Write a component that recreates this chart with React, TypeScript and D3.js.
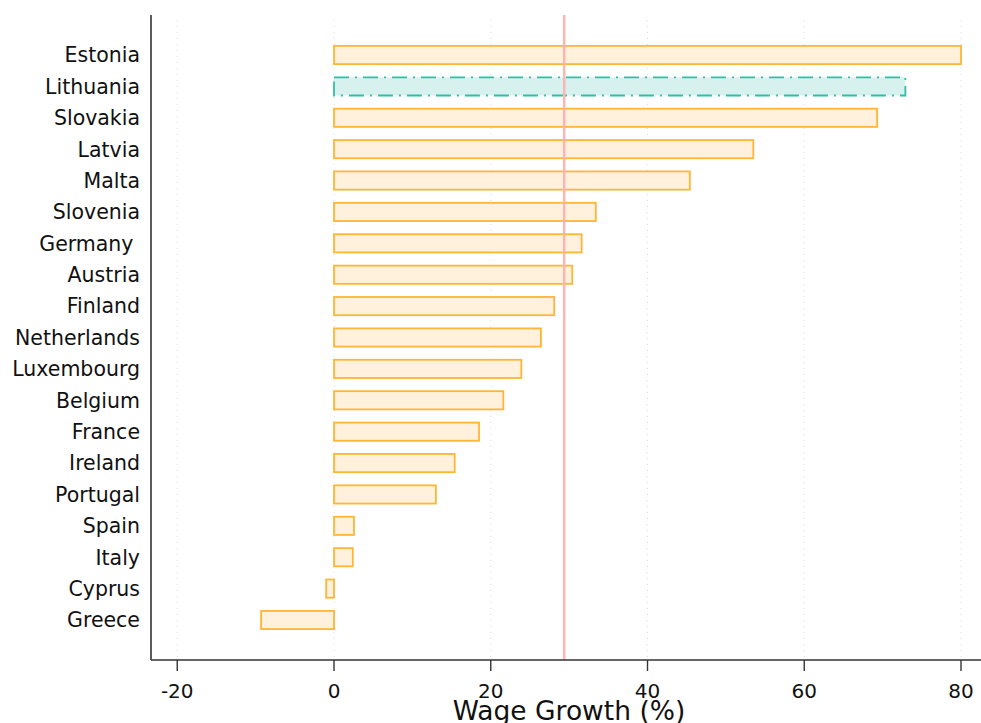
import React from "react";
import * as d3 from "d3";

const countries = ["Estonia","Lithuania","Slovakia","Latvia","Malta","Slovenia","Germany ","Austria","Finland","Netherlands","Luxembourg","Belgium","France","Ireland","Portugal","Spain","Italy","Cyprus","Greece"];
const growth = [80.0,72.9,69.3,53.5,45.4,33.4,31.6,30.4,28.1,26.4,23.9,21.6,18.5,15.4,13.0,2.55,2.4,-1.0,-9.3];
const highlight = ["Lithuania"];
const xTicks = [-20,0,20,40,60,80];

export default function App() {
  const W = 981, H = 723;
  const left = 151, right = 981, top = 15, bottom = 660;
  const x = d3.scaleLinear().domain([-23.35, 82.55]).range([left, right]);
  const y = d3.scaleBand().domain(countries).range([top + 24.3, bottom - 24.3]).paddingInner(0.42).paddingOuter(0.21);
  const mean = d3.mean(growth) as number;
  const font = "Verdana, DejaVu Sans, sans-serif";
  return (
    <svg width={W} height={H} style={{ position: "absolute", left: 0, top: 0, background: "#fff" }}>
      {xTicks.map(t => (
        <line key={"g"+t} x1={x(t)} x2={x(t)} y1={top + 5} y2={bottom - 3} stroke="#dcdcdc" strokeWidth={1} strokeDasharray="1,5" />
      ))}
      {countries.map((c, i) => {
        const v = growth[i];
        const hl = highlight.includes(c.trim());
        const x0 = x(Math.min(0, v)), x1 = x(Math.max(0, v));
        return (
          <rect key={c} x={x0} y={y(c)} width={x1 - x0} height={y.bandwidth()}
            fill={hl ? "#d7f1ee" : "#fff1db"} stroke={hl ? "#2cc0a6" : "#ffb535"} strokeWidth={1.8}
            strokeDasharray={hl ? "15,6,2,6" : undefined} />
        );
      })}
      <line x1={x(mean)} x2={x(mean)} y1={top} y2={bottom} stroke="#ffb3b3" strokeWidth={2.5} />
      <line x1={left} x2={left} y1={top} y2={bottom} stroke="#333" strokeWidth={1.6} />
      <line x1={left} x2={right} y1={bottom} y2={bottom} stroke="#333" strokeWidth={1.6} />
      {xTicks.map(t => (
        <g key={"t"+t}>
          <line x1={x(t)} x2={x(t)} y1={bottom} y2={bottom + 11} stroke="#333" strokeWidth={1.4} />
          <text x={x(t)} y={bottom + 38} textAnchor="middle" fontFamily={font} fontSize={20} fill="#111">{t}</text>
        </g>
      ))}
      {countries.map(c => (
        <text key={"l"+c} x={140} y={(y(c) as number) + y.bandwidth() / 2} dy="0.36em" textAnchor="end"
          fontFamily={font} fontSize={20.5} fill="#111" style={{ whiteSpace: "pre" }}>{c}</text>
      ))}
      <text x={569} y={720} textAnchor="middle" fontFamily={font} fontSize={26.5} fill="#111">Wage Growth (%)</text>
    </svg>
  );
}
